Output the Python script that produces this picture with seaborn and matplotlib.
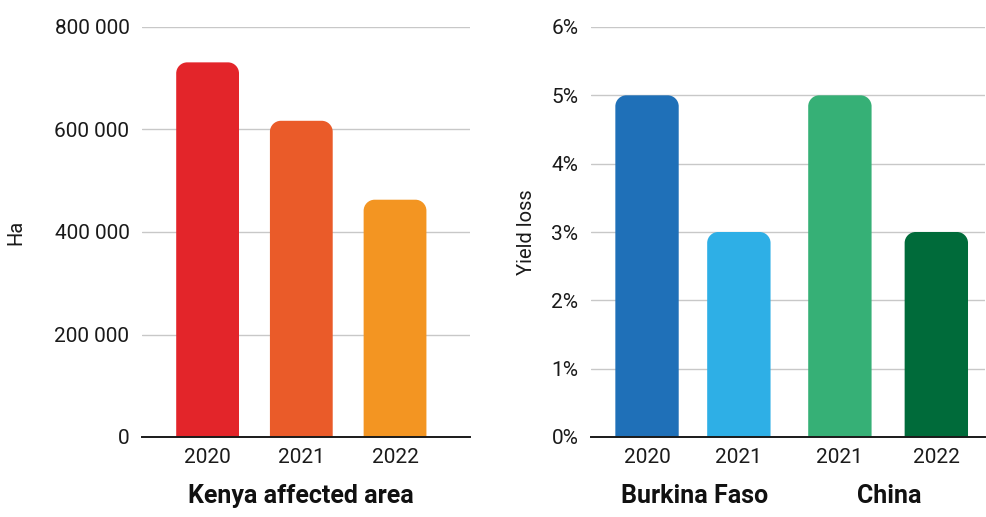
import numpy as np
import pandas as pd
import seaborn as sns
import matplotlib
matplotlib.use("Agg")
import matplotlib.pyplot as plt
from matplotlib.path import Path
from matplotlib.patches import PathPatch, Rectangle

# Kenya: area affected (hectares)
kenya_years = ["2020", "2021", "2022"]
kenya_area = [731000, 617000, 463000]
kenya_colors = ["#E3252A", "#EA5B29", "#F39522"]

# Yield loss (%) in Burkina Faso and China
loss_years = ["2020", "2021", "2021", "2022"]
loss_country = ["Burkina Faso", "Burkina Faso", "China", "China"]
loss_pct = [5, 3, 5, 3]
loss_colors = ["#1F70B8", "#2EAFE6", "#36B076", "#006B3A"]

sns.set_theme(style="white")
plt.rcParams["font.family"] = ["Roboto", "DejaVu Sans"]

W, H = 986, 517
fig = plt.figure(figsize=(W / 100, H / 100), dpi=100)


def ax_rect(x0, x1, y_top, y_bot):
    return [x0 / W, 1 - y_bot / H, (x1 - x0) / W, (y_bot - y_top) / H]


ax1 = fig.add_axes(ax_rect(142, 470, 27, 437))
ax2 = fig.add_axes(ax_rect(591, 985, 27, 437))

df1 = pd.DataFrame({"pos": [0.0, 1.0, 2.0], "year": kenya_years, "val": kenya_area})
df1["key"] = [f"k{i}" for i in range(len(df1))]
df2 = pd.DataFrame({"pos": [0.0, 1.0, 2.1, 3.15], "year": loss_years,
                    "country": loss_country, "val": loss_pct})
df2["key"] = [f"l{i}" for i in range(len(df2))]

sns.barplot(data=df1, x="pos", y="val", hue="key", palette=kenya_colors,
            native_scale=True, dodge=False, width=0.67, legend=False,
            saturation=1, ax=ax1, zorder=3)
sns.barplot(data=df2, x="pos", y="val", hue="key", palette=loss_colors,
            native_scale=True, dodge=False, width=0.69, legend=False,
            saturation=1, ax=ax2, zorder=3)

ax1.set_xlim(-0.70, 2.80)
ax1.set_ylim(0, 800000)
ax2.set_xlim(-0.61, 3.68)
ax2.set_ylim(0, 6)

ax1.set_yticks([0, 200000, 400000, 600000, 800000])
ax1.set_yticklabels(["0", "200 000", "400 000", "600 000", "800 000"])
ax2.set_yticks([0, 1, 2, 3, 4, 5, 6])
ax2.set_yticklabels([f"{v}%" for v in range(7)])

ax1.set_xticks(df1["pos"])
ax1.set_xticklabels(kenya_years)
ax2.set_xticks(df2["pos"])
ax2.set_xticklabels(loss_years)

for ax, ylab in ((ax1, "Ha"), (ax2, "Yield loss")):
    ax.set_xlabel("")
    ax.set_ylabel(ylab, fontsize=14.5, color="#1a1a1a")
    for s in ("top", "right", "left"):
        ax.spines[s].set_visible(False)
    ax.spines["bottom"].set_color("#1a1a1a")
    ax.spines["bottom"].set_linewidth(1.4)
    ax.spines["bottom"].set_zorder(4)
    ax.tick_params(axis="both", length=0, labelsize=15, colors="#1a1a1a")
    ax.tick_params(axis="y", pad=9)
    ax.tick_params(axis="x", pad=8)
    ax.yaxis.grid(True, color="#c8c8c8", linewidth=1.0, zorder=0)
    ax.set_axisbelow(True)

# y-label positions in figure pixels
ax1.yaxis.set_label_coords(16 / W, 0.5, transform=fig.transFigure)
ax2.yaxis.set_label_coords(527 / W, 0.5, transform=fig.transFigure)
ax1.yaxis.label.set_va("center")
ax2.yaxis.label.set_va("center")
ax1.yaxis.label.set_y(1 - 232 / H)
ax2.yaxis.label.set_y(1 - 232 / H)


def round_top(ax, radius_px=11):
    fig.canvas.draw()
    to_px = ax.transData
    inv = ax.transData.inverted()
    bars = [p for p in ax.patches if isinstance(p, Rectangle)]
    for p in bars:
        x, y = p.get_x(), p.get_y()
        w, h = p.get_width(), p.get_height()
        color = p.get_facecolor()
        (px0, py0) = to_px.transform((x, y))
        (px1, py1) = to_px.transform((x + w, y + h))
        r = min(radius_px, (px1 - px0) / 2, (py1 - py0))
        k = 0.5523 * r
        pts = [
            (px0, py0), (px0, py1 - r),
            (px0, py1 - r + k), (px0 + r - k, py1), (px0 + r, py1),
            (px1 - r, py1),
            (px1 - r + k, py1), (px1, py1 - r + k), (px1, py1 - r),
            (px1, py0), (px0, py0),
        ]
        codes = [Path.MOVETO, Path.LINETO,
                 Path.CURVE4, Path.CURVE4, Path.CURVE4,
                 Path.LINETO,
                 Path.CURVE4, Path.CURVE4, Path.CURVE4,
                 Path.LINETO, Path.CLOSEPOLY]
        data_pts = inv.transform(pts)
        patch = PathPatch(Path(data_pts, codes), facecolor=color,
                          edgecolor="none", zorder=3)
        p.remove()
        ax.add_patch(patch)


round_top(ax1)
round_top(ax2)

# Group captions under the year labels
cap = dict(ha="center", va="center", fontsize=18, fontweight="bold",
           color="#111111")
fig.text(301 / W, 1 - 496 / H, "Kenya affected area", **cap)
fig.text(695 / W, 1 - 496 / H, "Burkina Faso", **cap)
fig.text(889 / W, 1 - 496 / H, "China", **cap)

fig.savefig("out.png", dpi=100)
